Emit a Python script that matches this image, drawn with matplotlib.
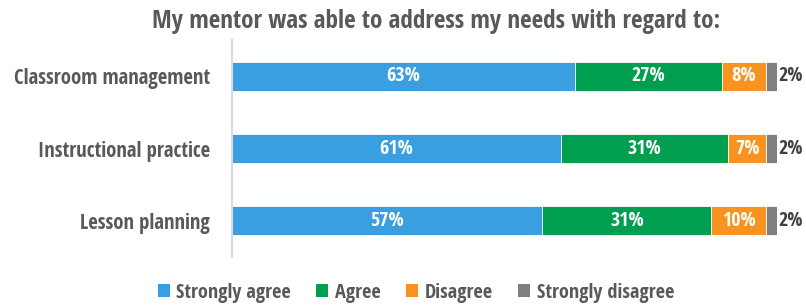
import matplotlib
matplotlib.use("Agg")
import matplotlib.pyplot as plt
from matplotlib.patches import Patch
from matplotlib import font_manager

categories = ["Classroom management", "Instructional practice", "Lesson planning"]
series_names = ["Strongly agree", "Agree", "Disagree", "Strongly disagree"]
strongly_agree = [63, 61, 57]
agree = [27, 31, 31]
disagree = [8, 7, 10]
strongly_disagree = [2, 2, 2]
title = "My mentor was able to address my needs with regard to:"

colors = ["#3A9FE0", "#009E4F", "#F7931E", "#7F7F7F"]

names = {f.name for f in font_manager.fontManager.ttflist}
fam = "Roboto"
for cand in ["Open Sans Condensed", "Roboto Condensed", "Liberation Sans Narrow",
             "Noto Sans Condensed", "DejaVu Sans Condensed"]:
    if cand in names:
        fam = cand
        break
plt.rcParams["font.family"] = [fam, "DejaVu Sans"]
plt.rcParams["font.weight"] = "bold"

fig = plt.figure(figsize=(8.06, 3.05), dpi=100)
renderer = fig.canvas.get_renderer()


def fit_size(text, target_px, start=14.0):
    t = fig.text(0, 0, text, fontsize=start, fontweight="bold")
    w = t.get_window_extent(renderer=renderer).width
    t.remove()
    return start * target_px / w


cat_size = fit_size("Classroom management", 197)
title_size = fit_size(title, 572)
leg_size = fit_size("Strongly disagree", 138)
val_size = fit_size("63%", 34)
em_px = leg_size * 100 / 72.0

ax = fig.add_axes([232/806, 48/305, 544.7/806, 217/305])

series = [strongly_agree, agree, disagree, strongly_disagree]
ypos = list(range(len(categories)))
left = [0.0] * len(categories)
totals = [sum(s[i] for s in series) for i in range(len(categories))]
for vals, col in zip(series, colors):
    widths = [v * 100.0 / t for v, t in zip(vals, totals)]
    ax.barh(ypos, widths, left=left, height=0.4, color=col,
            edgecolor="white", linewidth=0.6)
    for i, (w, l, v) in enumerate(zip(widths, left, vals)):
        if col == colors[3]:
            ax.text(l + w + 0.3, i, f"{v}%", ha="left", va="center",
                    color="#404040", fontsize=val_size, fontweight="bold")
        else:
            ax.text(l + w / 2, i, f"{v}%", ha="center", va="center",
                    color="white", fontsize=val_size, fontweight="bold")
    left = [l + w for l, w in zip(left, widths)]

ax.set_xlim(0, 100)
ax.set_ylim(len(categories) - 0.5, -0.5)
ax.set_yticks(ypos)
ax.set_yticklabels(categories, fontsize=cat_size, color="#595959", fontweight="bold")
ax.tick_params(axis="y", length=0, pad=16)
ax.set_xticks([])
for s in ["top", "right", "bottom"]:
    ax.spines[s].set_visible(False)
ax.spines["left"].set_color("#D9D9D9")
ax.spines["left"].set_linewidth(1.5)

fig.text(436/806, 1 - 22/305, title, ha="center", va="center",
         fontsize=title_size, color="#595959", fontweight="bold")

handles = [Patch(facecolor=c, edgecolor="none") for c in colors]
fig.legend(handles, series_names, loc="center", bbox_to_anchor=(416/806, 1 - 293/305),
           ncol=4, frameon=False, fontsize=leg_size,
           handlelength=12 / em_px, handleheight=12 / em_px,
           handletextpad=7 / em_px, columnspacing=25 / em_px, labelcolor="#595959")

fig.savefig("out.png", dpi=100)
